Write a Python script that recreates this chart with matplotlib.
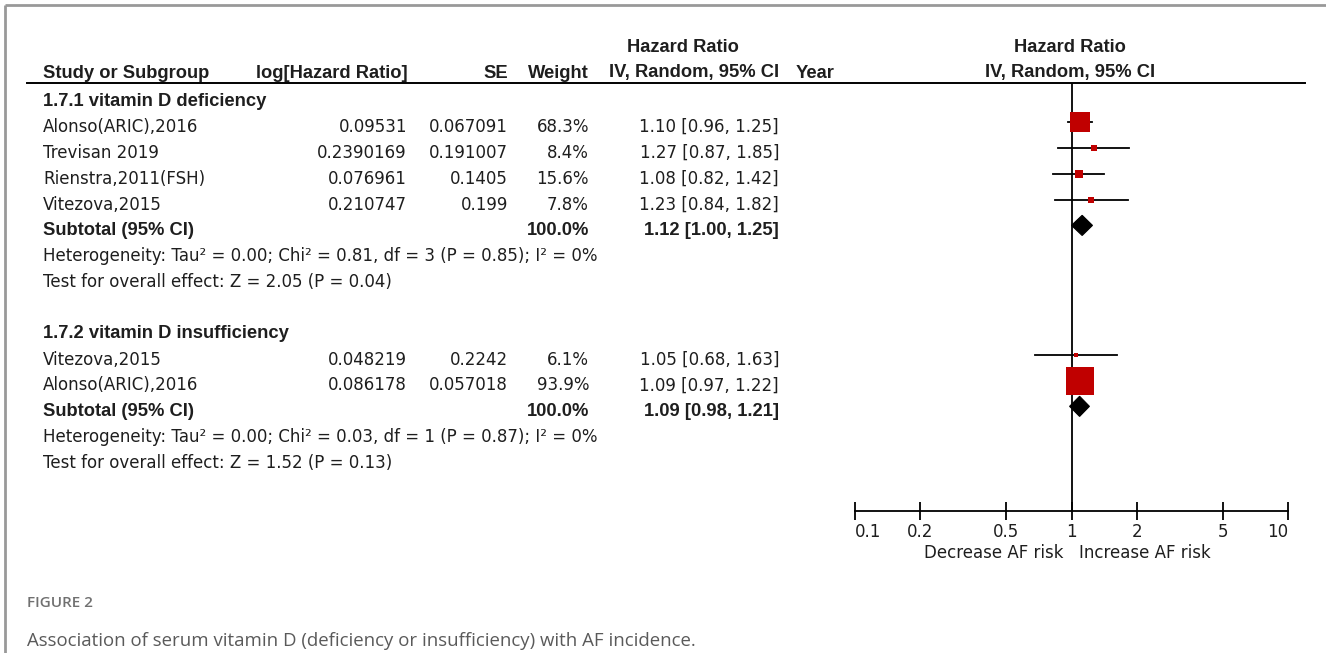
import numpy as np
import matplotlib
matplotlib.use("Agg")
import matplotlib.pyplot as plt
from matplotlib.patches import Polygon

# ---- data ----
studies1 = ["Alonso(ARIC),2016", "Trevisan 2019", "Rienstra,2011(FSH)", "Vitezova,2015"]
loghr1 = ["0.09531", "0.2390169", "0.076961", "0.210747"]
se1 = ["0.067091", "0.191007", "0.1405", "0.199"]
weight1 = [68.3, 8.4, 15.6, 7.8]
hr1 = [1.10, 1.27, 1.08, 1.23]
lo1 = [0.96, 0.87, 0.82, 0.84]
hi1 = [1.25, 1.85, 1.42, 1.82]
sub1 = [1.12, 1.00, 1.25]
subw1 = 100.0
het1 = "Heterogeneity: Tau² = 0.00; Chi² = 0.81, df = 3 (P = 0.85); I² = 0%"
test1 = "Test for overall effect: Z = 2.05 (P = 0.04)"

studies2 = ["Vitezova,2015", "Alonso(ARIC),2016"]
loghr2 = ["0.048219", "0.086178"]
se2 = ["0.2242", "0.057018"]
weight2 = [6.1, 93.9]
hr2 = [1.05, 1.09]
lo2 = [0.68, 0.97]
hi2 = [1.63, 1.22]
sub2 = [1.09, 0.98, 1.21]
subw2 = 100.0
het2 = "Heterogeneity: Tau² = 0.00; Chi² = 0.03, df = 1 (P = 0.87); I² = 0%"
test2 = "Test for overall effect: Z = 1.52 (P = 0.13)"

groups = ["1.7.1 vitamin D deficiency", "1.7.2 vitamin D insufficiency"]
xticks = [0.1, 0.2, 0.5, 1, 2, 5, 10]
xticklabels = ["0.1", "0.2", "0.5", "1", "2", "5", "10"]

# ---- layout ----
W, H = 1326, 653
DPI = 100
ROW0, DROW = 122, 25.85     # pixel y of first study row, row pitch
TEXT_OFF = 5
TXT = "#1e1e1e"
RED = "#c00000"
FS = 12
FSB = 13.2

fig = plt.figure(figsize=(W / DPI, H / DPI), dpi=DPI)
fig.patch.set_facecolor("white")

# pixel-space axes for the table text
ax_t = fig.add_axes([0, 0, 1, 1])
ax_t.set_xlim(0, W)
ax_t.set_ylim(H, 0)
ax_t.axis("off")

def ty(r):
    return ROW0 + r * DROW + TEXT_OFF

def txt(x, r, s, ha="left", bold=False, y=None):
    ax_t.text(x, ty(r) if y is None else y, s, ha=ha, va="center",
              fontsize=FSB if bold else FS,
              fontweight="bold" if bold else "normal", color=TXT,
              family="Liberation Sans" if bold else "DejaVu Sans")

# frame
ax_t.plot([5, 5], [5, H], color="#999999", lw=2, solid_capstyle="butt")
ax_t.plot([5, W], [5, 5], color="#999999", lw=2, solid_capstyle="butt")

# headers
txt(683, 0, "Hazard Ratio", ha="center", bold=True, y=48)
txt(1070, 0, "Hazard Ratio", ha="center", bold=True, y=48)
hy = 73
txt(43, 0, "Study or Subgroup", bold=True, y=hy)
txt(408, 0, "log[Hazard Ratio]", ha="right", bold=True, y=hy)
txt(508, 0, "SE", ha="right", bold=True, y=hy)
txt(589, 0, "Weight", ha="right", bold=True, y=hy)
txt(779, 0, "IV, Random, 95% CI", ha="right", bold=True, y=hy)
txt(796, 0, "Year", bold=True, y=hy)
txt(1070, 0, "IV, Random, 95% CI", ha="center", bold=True, y=hy)
ax_t.plot([27, 1305], [83, 83], color="black", lw=1.4)

# forest axes: bottom spine at y=511, top at header line y=83
x0, x1, y_top, y_bot = 855, 1288, 83, 511
ax = fig.add_axes([x0 / W, 1 - y_bot / H, (x1 - x0) / W, (y_bot - y_top) / H])
ax.set_xscale("log")
ax.set_xlim(0.1, 10)
ax.set_ylim((y_bot - ROW0) / DROW, (y_top - ROW0) / DROW)
for s in ["top", "left", "right"]:
    ax.spines[s].set_visible(False)
ax.spines["bottom"].set_linewidth(1.3)
ax.patch.set_alpha(0)
ax.set_yticks([])
ax.set_xticks(xticks)
ax.set_xticklabels(xticklabels, fontsize=FS, color=TXT, family="DejaVu Sans")
ax.minorticks_off()
ax.tick_params(axis="x", direction="inout", length=13, width=1.3, pad=2)
tl = ax.get_xticklabels()
tl[0].set_ha("left")
tl[-1].set_ha("right")
ax.axvline(1, color="black", lw=1.3, zorder=1)

def side_pts(w):
    return (3 + 0.26 * w) * 72 / DPI

def draw_group(start, name, studies, lhr, se, wt, hr, lo, hi, sub, subw, het, test):
    txt(43, start - 1, name, bold=True)
    for i in range(len(studies)):
        r = start + i
        txt(43, r, studies[i])
        txt(407, r, lhr[i], ha="right")
        txt(508, r, se[i], ha="right")
        txt(589, r, f"{wt[i]:.1f}%", ha="right")
        txt(779, r, f"{hr[i]:.2f} [{lo[i]:.2f}, {hi[i]:.2f}]", ha="right")
        ax.plot([lo[i], hi[i]], [r, r], color="black", lw=1.3, zorder=2)
        ax.plot([hr[i]], [r], marker="s", color=RED, ms=side_pts(wt[i]),
                mew=0, zorder=3)
    r = start + len(studies)
    txt(43, r, "Subtotal (95% CI)", bold=True)
    txt(589, r, f"{subw:.1f}%", ha="right", bold=True)
    txt(779, r, f"{sub[0]:.2f} [{sub[1]:.2f}, {sub[2]:.2f}]", ha="right", bold=True)
    h = 0.39
    ax.add_patch(Polygon([[sub[1], r], [sub[0], r - h], [sub[2], r], [sub[0], r + h]],
                         closed=True, facecolor="black", edgecolor="black", lw=0.8, zorder=3))
    txt(43, r + 1, het)
    txt(43, r + 2, test)

draw_group(0, groups[0], studies1, loghr1, se1, weight1, hr1, lo1, hi1, sub1, subw1, het1, test1)
draw_group(9, groups[1], studies2, loghr2, se2, weight2, hr2, lo2, hi2, sub2, subw2, het2, test2)

# favours labels
ax_t.text(1063, 553, "Decrease AF risk", ha="right", va="center", fontsize=FS, color=TXT)
ax_t.text(1079, 553, "Increase AF risk", ha="left", va="center", fontsize=FS, color=TXT)

# caption
ax_t.text(27, 603, "FIGURE 2", ha="left", va="center", fontsize=11, color="#707070",
          family="Open Sans", fontweight="semibold")
ax_t.text(27, 641, "Association of serum vitamin D (deficiency or insufficiency) with AF incidence.",
          ha="left", va="center", fontsize=13.4, color="#5a5a5a", family="Open Sans")

fig.savefig("out.png", dpi=DPI)
